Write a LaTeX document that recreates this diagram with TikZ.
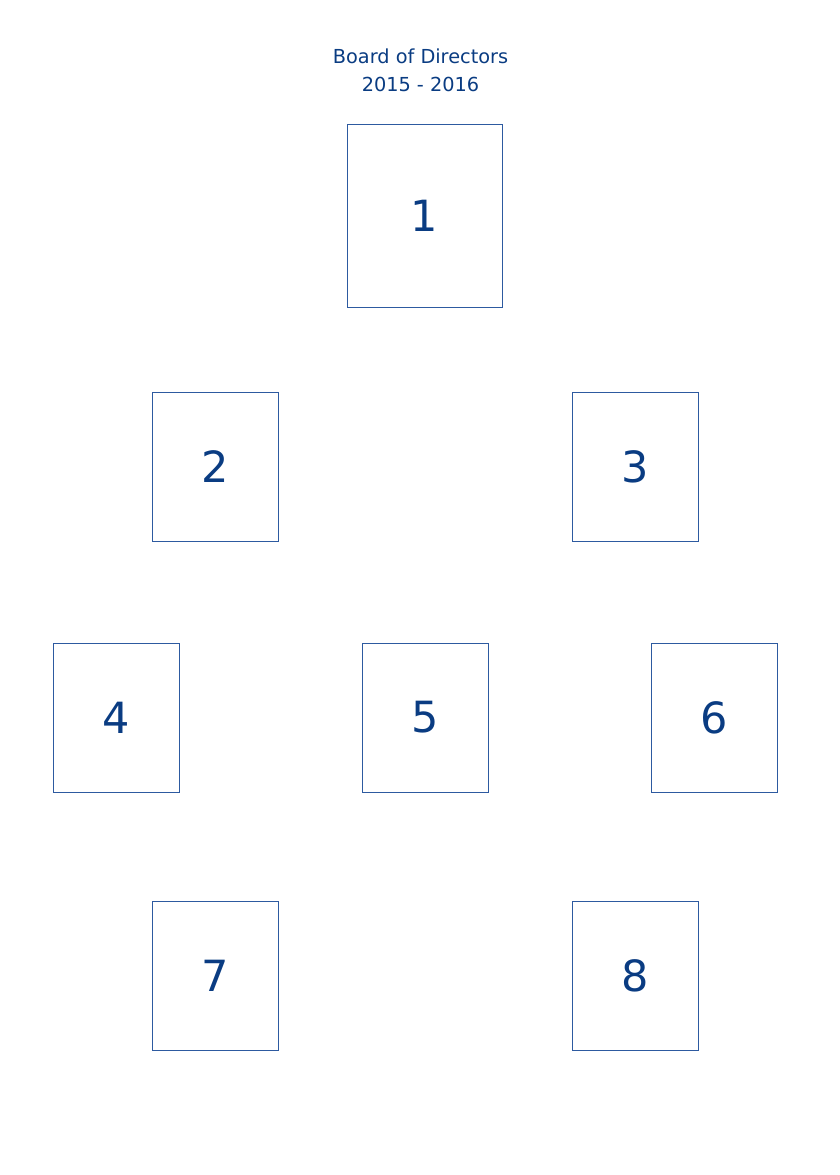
\documentclass[tikz,border=0pt]{standalone}
\usepackage{fontspec}
\setmainfont{DejaVu Sans}
\usepackage{tikz}

\definecolor{boardblue}{RGB}{10,60,130}
\definecolor{boxline}{RGB}{45,90,160}

\begin{document}
\begin{tikzpicture}[x=1pt,y=-1pt,
	member/.style={
		shape=rectangle,
		draw=boxline,
		line width=0.9pt,
		text=boardblue,
		minimum width=126pt,
		minimum height=149pt,
		inner sep=0pt,
		font=\fontsize{43}{48}\selectfont},
	heading/.style={
		text=boardblue,
		align=center,
		font=\fontsize{19.3}{28}\selectfont}
	]
	\useasboundingbox (0,0) rectangle (840,1175);
	
	\node[heading] (title) at (420.5,70) {Board of Directors\\2015 - 2016};
	
	\node[member, minimum width=155pt, minimum height=183pt] (m1) at (424.5,215.5) {1};
	
	\node[member] (m2) at (215,466.5) {2};
	\node[member] (m3) at (635,466.5) {3};
	
	\node[member] (m4) at (116,717.5) {4};
	\node[member] (m5) at (425,717.5) {5};
	\node[member] (m6) at (714,717.5) {6};
	
	\node[member] (m7) at (215,975.5) {7};
	\node[member] (m8) at (635,975.5) {8};
\end{tikzpicture}
\end{document}
